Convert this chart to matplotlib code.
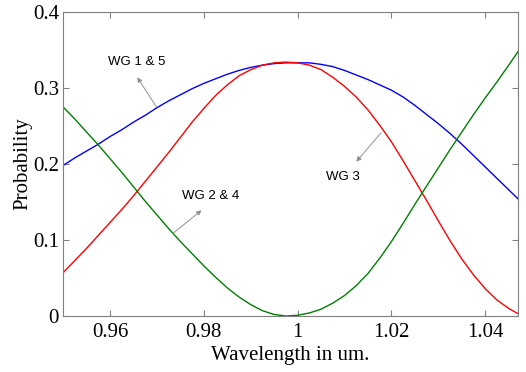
import numpy as np
import matplotlib
matplotlib.use("Agg")
import matplotlib.pyplot as plt

# wavelength (um) sampled off the reference figure
wl = [0.9500, 0.9525, 0.9550, 0.9575, 0.9600, 0.9625, 0.9650, 0.9675, 0.9700, 0.9725,
      0.9750, 0.9775, 0.9800, 0.9825, 0.9850, 0.9875, 0.9900, 0.9925, 0.9950, 0.9975,
      1.0000, 1.0025, 1.0050, 1.0075, 1.0100, 1.0125, 1.0150, 1.0175, 1.0200, 1.0225,
      1.0250, 1.0275, 1.0300, 1.0325, 1.0350, 1.0375, 1.0400, 1.0425, 1.0450, 1.0470]

# WG 1 & 5 (blue)
p_wg15 = [0.198, 0.208, 0.217, 0.226, 0.236, 0.245, 0.255, 0.264, 0.274, 0.283,
          0.291, 0.299, 0.306, 0.312, 0.318, 0.323, 0.327, 0.330, 0.332, 0.333,
          0.333, 0.333, 0.331, 0.328, 0.323, 0.317, 0.311, 0.304, 0.297, 0.288,
          0.277, 0.265, 0.253, 0.240, 0.226, 0.211, 0.196, 0.181, 0.166, 0.154]

# WG 3 (red)
p_wg3 = [0.057, 0.073, 0.089, 0.106, 0.123, 0.140, 0.158, 0.177, 0.196, 0.215,
         0.235, 0.255, 0.273, 0.290, 0.304, 0.316, 0.324, 0.330, 0.333, 0.334,
         0.333, 0.330, 0.324, 0.314, 0.302, 0.288, 0.271, 0.251, 0.229, 0.204,
         0.178, 0.152, 0.125, 0.099, 0.075, 0.054, 0.036, 0.021, 0.010, 0.003]

# WG 2 & 4 (green)
p_wg24 = [0.275, 0.259, 0.242, 0.225, 0.207, 0.189, 0.170, 0.151, 0.133, 0.115,
          0.098, 0.082, 0.066, 0.051, 0.037, 0.025, 0.015, 0.007, 0.002, 0.000,
          0.001, 0.004, 0.009, 0.017, 0.027, 0.040, 0.056, 0.076, 0.098, 0.122,
          0.147, 0.171, 0.195, 0.219, 0.242, 0.265, 0.287, 0.308, 0.330, 0.348]

xticks = [0.96, 0.98, 1.0, 1.02, 1.04]
xticklabels = ['0.96', '0.98', '1', '1.02', '1.04']
yticks = [0, 0.1, 0.2, 0.3, 0.4]
yticklabels = ['0', '0.1', '0.2', '0.3', '0.4']

fig = plt.figure(figsize=(5.26, 3.72), dpi=100)
ax = fig.add_axes([0.12, 0.1505, 0.865, 0.8175])

ax.plot(wl, p_wg15, color='b', lw=1.0)
ax.plot(wl, p_wg3, color='r', lw=1.0)
ax.plot(wl, p_wg24, color=(0, 0.5, 0), lw=1.0)

ax.set_xlim(0.95, 1.047)
ax.set_ylim(0, 0.4)
ax.set_xticks(xticks)
ax.set_xticklabels(xticklabels)
ax.set_yticks(yticks)
ax.set_yticklabels(yticklabels)

serif = {'family': 'Liberation Serif', 'size': 15}
for lab in ax.get_xticklabels() + ax.get_yticklabels():
    lab.set_fontfamily('Liberation Serif')
    lab.set_fontsize(15)
ax.tick_params(direction='in', top=True, right=True, length=4, width=0.8,
               color='#808080')
ax.tick_params(axis='x', pad=5)
ax.tick_params(axis='y', pad=3)
for s in ax.spines.values():
    s.set_color('#808080')
    s.set_linewidth(0.8)

ax.set_xlabel('Wavelength in um.', fontdict=serif, labelpad=3)
ax.set_ylabel('Probability', fontdict=serif, labelpad=0)

arr = dict(arrowstyle='-|>', color='#909090', lw=0.7, mutation_scale=7,
           shrinkA=0, shrinkB=0)
txt = dict(family='Liberation Sans', size=9.5, ha='center', va='center')
ax.annotate('', xy=(0.9658, 0.314), xytext=(0.9699, 0.275), arrowprops=arr)
ax.text(0.9657, 0.334, 'WG 1 & 5', **txt)
ax.annotate('', xy=(0.9795, 0.139), xytext=(0.9735, 0.109), arrowprops=arr)
ax.text(0.9815, 0.158, 'WG 2 & 4', **txt)
ax.annotate('', xy=(1.0125, 0.203), xytext=(1.0178, 0.241), arrowprops=arr)
ax.text(1.0096, 0.183, 'WG 3', **txt)

fig.savefig('out.png', dpi=100)
